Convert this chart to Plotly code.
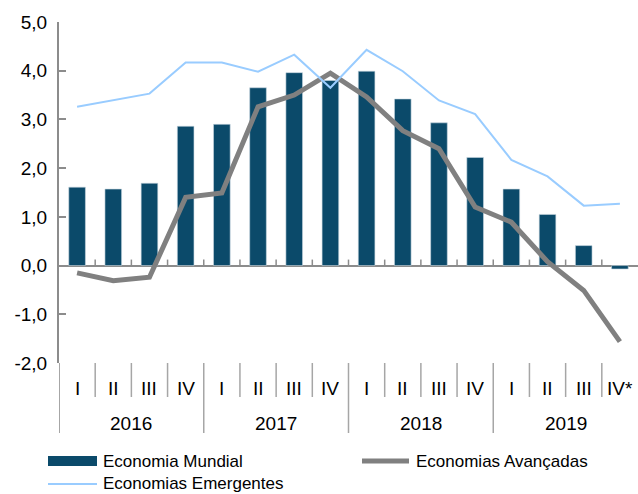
import plotly.graph_objects as go

# ---- data ----
years = ["2016", "2017", "2018", "2019"]
quarter_labels = ["I", "II", "III", "IV", "I", "II", "III", "IV",
                  "I", "II", "III", "IV", "I", "II", "III", "IV*"]
mundial = [1.61, 1.57, 1.69, 2.86, 2.90, 3.65, 3.96, 3.80,
           3.99, 3.42, 2.93, 2.22, 1.57, 1.05, 0.41, -0.07]
avancadas = [-0.15, -0.31, -0.24, 1.40, 1.49, 3.26, 3.50, 3.95,
             3.46, 2.77, 2.40, 1.20, 0.89, 0.08, -0.51, -1.56]
emergentes = [3.26, 3.39, 3.53, 4.17, 4.17, 3.98, 4.33, 3.65,
              4.43, 3.99, 3.39, 3.11, 2.17, 1.83, 1.23, 1.27]
y_tickvals = [-2, -1, 0, 1, 2, 3, 4, 5]
y_ticktext = ["-2,0", "-1,0", "0,0", "1,0", "2,0", "3,0", "4,0", "5,0"]
series_names = ["Economia Mundial", "Economias Avançadas", "Economias Emergentes"]

# ---- styles ----
C_BAR = "#0b4a6a"
C_ADV = "#808080"
C_EME = "#99ccff"
C_AXIS = "#8c8c8c"
FONT = "Liberation Sans, Arial, sans-serif"

W, H = 638, 494
ML, MR, MT, MB = 59, 0, 22, 131
PH = H - MT - MB
PW = W - ML - MR

n = len(quarter_labels)
keys = [f"{years[i // 4]} {quarter_labels[i]}" for i in range(n)]

fig = go.Figure()
fig.add_trace(go.Bar(x=keys, y=mundial, name=series_names[0],
                     marker=dict(color=C_BAR, line=dict(color="#c9d6e0", width=0.6))))
fig.add_trace(go.Scatter(x=keys, y=avancadas, name=series_names[1], mode="lines",
                         line=dict(color=C_ADV, width=5)))
fig.add_trace(go.Scatter(x=keys, y=emergentes, name=series_names[2], mode="lines",
                         line=dict(color=C_EME, width=2)))

def py(px_below):
    """paper y for a pixel distance below the plot bottom"""
    return -px_below / PH

def px_x(px):
    return (px - ML) / PW

shapes = []
annotations = []
# small ticks on the zero line at category boundaries
for i in range(1, n):
    shapes.append(dict(type="line", xref="x", yref="y", x0=i - 0.5, x1=i - 0.5,
                       y0=0, y1=6 / (PH / 7), line=dict(color=C_AXIS, width=1.5)))
# separators below the plot
for i in range(1, n):
    length = 70 if i % 4 == 0 else 34
    shapes.append(dict(type="line", xref="x", yref="paper", x0=i - 0.5, x1=i - 0.5,
                       y0=0, y1=py(length), line=dict(color="#a6a6a6", width=1.5)))
# extension of y axis line
shapes.append(dict(type="line", xref="x", yref="paper", x0=-0.5, x1=-0.5,
                   y0=0, y1=py(70), line=dict(color="#a6a6a6", width=2)))

for i, q in enumerate(quarter_labels):
    annotations.append(dict(x=i, y=py(25), xref="x", yref="paper", text=q,
                            showarrow=False, xanchor="center", yanchor="middle",
                            font=dict(family=FONT, size=19, color="#000")))
for j, yr in enumerate(years):
    annotations.append(dict(x=4 * j + 1.5, y=py(60), xref="x", yref="paper", text=yr,
                            showarrow=False, xanchor="center", yanchor="middle",
                            font=dict(family=FONT, size=19, color="#000")))

# manual legend
leg_font = dict(family=FONT, size=17, color="#000")
# Economia Mundial
shapes.append(dict(type="rect", xref="paper", yref="paper",
                   x0=px_x(48), x1=px_x(97), y0=py(456 - 363), y1=py(466 - 363),
                   fillcolor=C_BAR, line=dict(width=0)))
annotations.append(dict(x=px_x(101), y=py(461 - 363), xref="paper", yref="paper",
                        text=series_names[0], showarrow=False, xanchor="left",
                        yanchor="middle", font=leg_font))
# Economias Avançadas
shapes.append(dict(type="line", xref="paper", yref="paper",
                   x0=px_x(362), x1=px_x(409), y0=py(461 - 363), y1=py(461 - 363),
                   line=dict(color=C_ADV, width=5)))
annotations.append(dict(x=px_x(414), y=py(461 - 363), xref="paper", yref="paper",
                        text=series_names[1], showarrow=False, xanchor="left",
                        yanchor="middle", font=leg_font))
# Economias Emergentes
shapes.append(dict(type="line", xref="paper", yref="paper",
                   x0=px_x(48), x1=px_x(97), y0=py(484 - 363), y1=py(484 - 363),
                   line=dict(color=C_EME, width=2)))
annotations.append(dict(x=px_x(101), y=py(483 - 363), xref="paper", yref="paper",
                        text=series_names[2], showarrow=False, xanchor="left",
                        yanchor="middle", font=leg_font))

fig.update_layout(
    width=W, height=H,
    margin=dict(l=ML, r=MR, t=MT, b=MB, pad=0),
    paper_bgcolor="white", plot_bgcolor="white",
    showlegend=False,
    bargap=0.54,
    font=dict(family=FONT, size=19, color="#000"),
    shapes=shapes, annotations=annotations,
    xaxis=dict(type="category", range=[-0.5, n - 0.5], showticklabels=False,
               showgrid=False, zeroline=False, showline=False, ticks=""),
    yaxis=dict(range=[-2, 5], tickvals=y_tickvals, ticktext=y_ticktext,
               showgrid=False, showline=True, linecolor=C_AXIS, linewidth=2,
               ticks="inside", ticklen=7, tickwidth=1.5, tickcolor=C_AXIS,
               zeroline=True, zerolinecolor=C_AXIS, zerolinewidth=1.5,
               ticklabelstandoff=6,
               tickfont=dict(family=FONT, size=19, color="#000")),
)

fig.write_html("out.html", config={"displayModeBar": False},
               post_script="document.body.style.margin='0';document.body.style.overflow='hidden';")
